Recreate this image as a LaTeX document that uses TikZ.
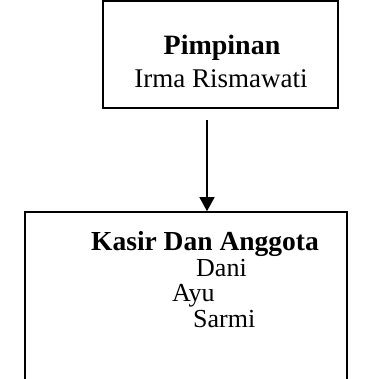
\documentclass[tikz,border=0pt]{standalone}
\usepackage{fontspec}
\setmainfont{Liberation Serif}
\usetikzlibrary{arrows.meta}
\begin{document}
\begin{tikzpicture}[x=1pt,y=1pt,
  frame/.style={draw=black, line width=1.6pt, rectangle, inner sep=0pt},
  toptext/.style={anchor=base, inner sep=0pt, font=\fontsize{27}{32}\selectfont},
  lowtext/.style={anchor=base, inner sep=0pt, font=\fontsize{26}{31}\selectfont},
  link/.style={line width=1.4pt, -{Triangle[length=14pt,width=15pt]}}]
\useasboundingbox (0,0) rectangle (385,-379);
\clip (0,0) rectangle (385,-379);
% leader box
\node[frame, minimum width=235pt, minimum height=107pt] (lead) at (220.5,-54.5) {};
\node[toptext, font=\fontsize{28}{33}\selectfont\bfseries] (leadtitle) at (222,-55) {Pimpinan};
\node[toptext] (leadname) at (221,-88) {Irma Rismawati};
% staff box, running past the lower page edge
\node[frame, minimum width=322pt, minimum height=200pt] (staff) at (186,-312) {};
\node[lowtext, font=\fontsize{27.5}{33}\selectfont\bfseries] (stafftitle) at (205,-251) {Kasir Dan Anggota};
\node[lowtext, anchor=base west] (dani) at (196,-276) {Dani};
\node[lowtext, anchor=base west] (ayu) at (172,-301) {Ayu};
\node[lowtext, anchor=base west] (sarmi) at (193,-327) {Sarmi};
% connector
\coordinate (linkstart) at (207,-120);
\draw[link] (linkstart) -- (linkstart |- staff.north);
\end{tikzpicture}
\end{document}
